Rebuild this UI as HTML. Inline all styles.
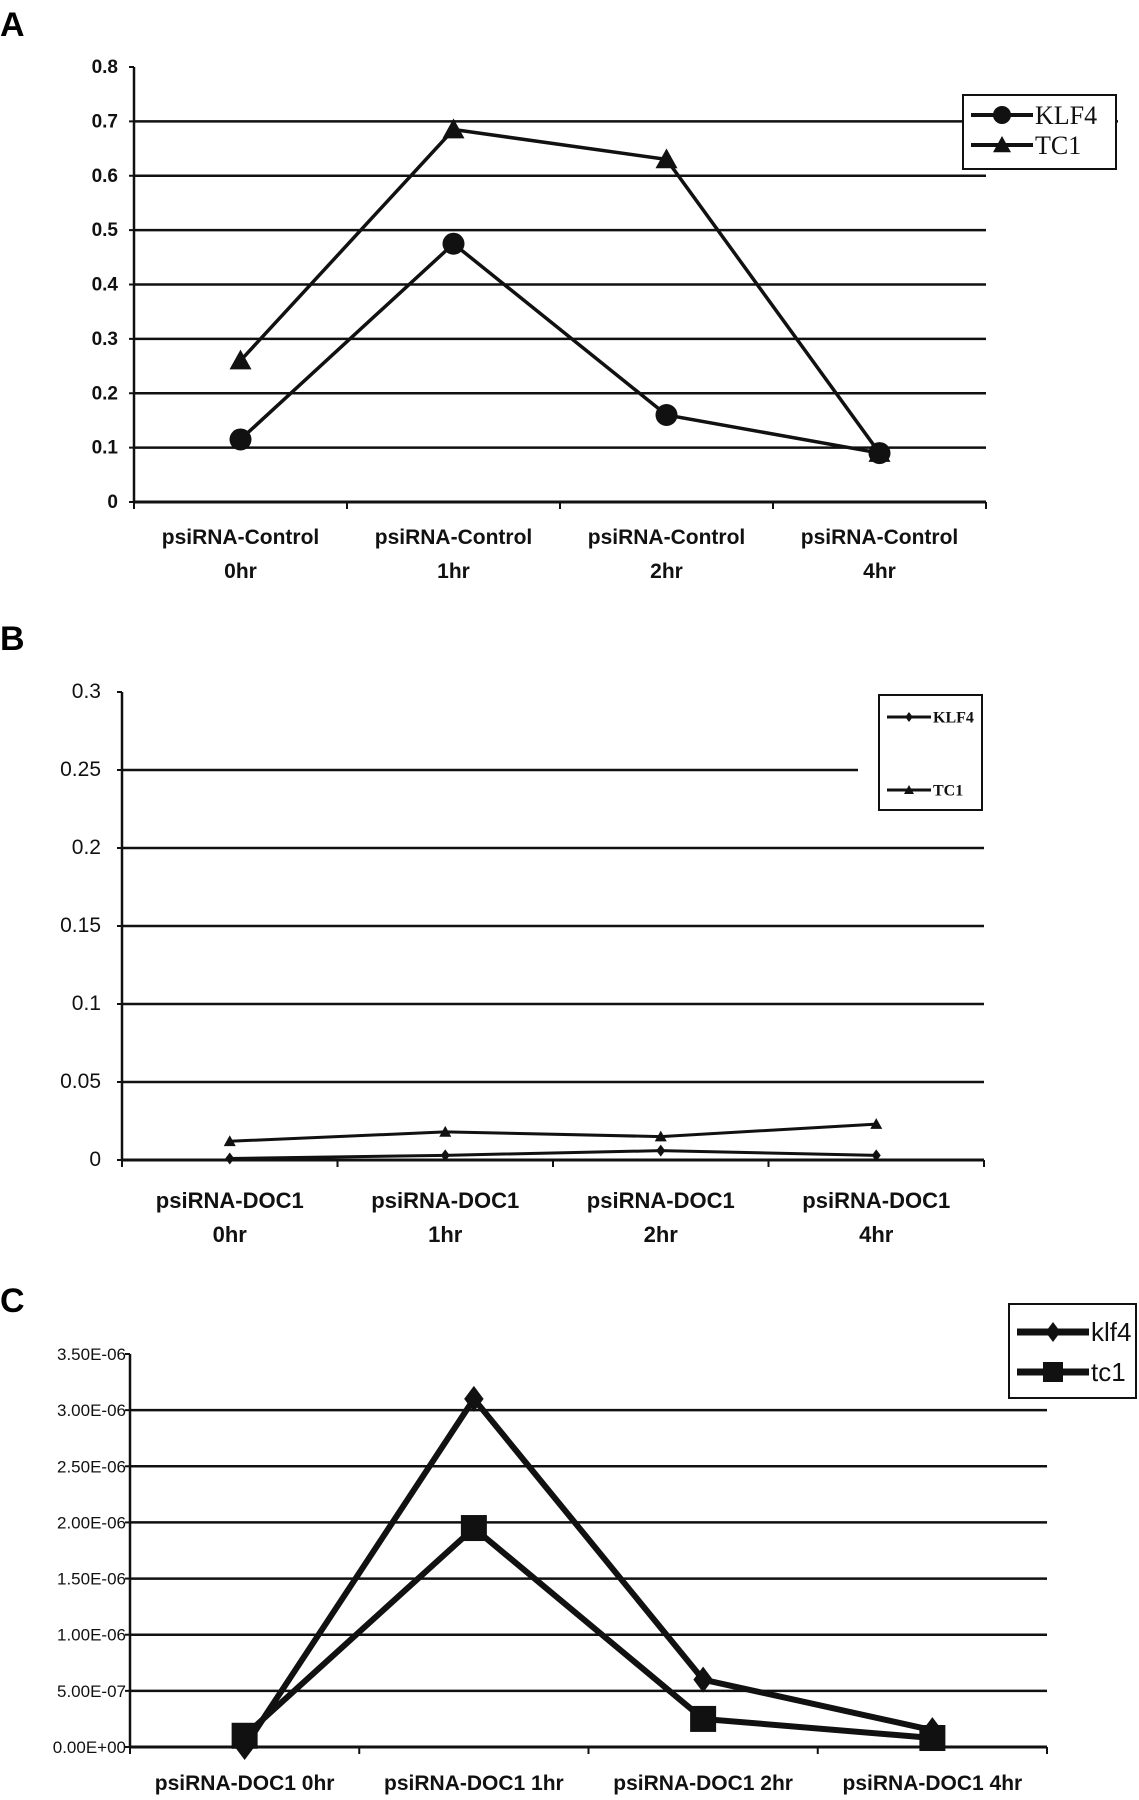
<!DOCTYPE html>
<html><head><meta charset="utf-8"><style>
html,body{margin:0;padding:0;background:#fff;}
svg{display:block;font-family:"Liberation Sans",sans-serif;}
</style></head><body>
<svg id="fig" width="1139" height="1800" viewBox="0 0 1139 1800">
<text x="0" y="36" font-size="34" font-weight="bold">A</text>
<text x="0" y="650" font-size="34" font-weight="bold">B</text>
<text x="0" y="1312" font-size="34" font-weight="bold">C</text>
</svg>
<script>
// Panel A data
const catsA = [["psiRNA-Control","0hr"],["psiRNA-Control","1hr"],["psiRNA-Control","2hr"],["psiRNA-Control","4hr"]];
const klf4A = [0.115, 0.475, 0.16, 0.09];
const tc1A = [0.26, 0.685, 0.63, 0.09];
const ticksA = [0,0.1,0.2,0.3,0.4,0.5,0.6,0.7,0.8];
const tickLabelsA = ["0","0.1","0.2","0.3","0.4","0.5","0.6","0.7","0.8"];
// Panel B data
const catsB = [["psiRNA-DOC1","0hr"],["psiRNA-DOC1","1hr"],["psiRNA-DOC1","2hr"],["psiRNA-DOC1","4hr"]];
const klf4B = [0.001, 0.003, 0.006, 0.003];
const tc1B = [0.012, 0.018, 0.015, 0.023];
const ticksB = [0,0.05,0.1,0.15,0.2,0.25,0.3];
const tickLabelsB = ["0","0.05","0.1","0.15","0.2","0.25","0.3"];
// Panel C data
const catsC = [["psiRNA-DOC1 0hr"],["psiRNA-DOC1 1hr"],["psiRNA-DOC1 2hr"],["psiRNA-DOC1 4hr"]];
const klf4C = [0.0, 3.1e-6, 0.6e-6, 0.15e-6];
const tc1C = [0.1e-6, 1.95e-6, 0.25e-6, 0.08e-6];
const ticksC = [0,0.5e-6,1e-6,1.5e-6,2e-6,2.5e-6,3e-6,3.5e-6];
const tickLabelsC = ["0.00E+00","5.00E-07","1.00E-06","1.50E-06","2.00E-06","2.50E-06","3.00E-06","3.50E-06"];

const NS="http://www.w3.org/2000/svg";
const svg=document.getElementById('fig');
function mk(tag,attrs,parent){const e=document.createElementNS(NS,tag);for(const k in attrs)e.setAttribute(k,attrs[k]);(parent||svg).appendChild(e);return e;}

function marker(g,type,x,y,s){
  let e;
  if(type==='circle')e=mk('circle',{cx:x,cy:y,r:s,fill:'#111'},g);
  else if(type==='tri')e=mk('polygon',{points:`${x},${y-s} ${x-s},${y+s*0.8} ${x+s},${y+s*0.8}`,fill:'#111'},g);
  else if(type==='diamond')e=mk('polygon',{points:`${x},${y-s} ${x-s*0.75},${y} ${x},${y+s} ${x+s*0.75},${y}`,fill:'#111'},g);
  else e=mk('rect',{x:x-s,y:y-s,width:2*s,height:2*s,fill:'#111'},g);
  return e;
}

function chart(o){
  const g=mk('g',{});
  
  
  const ymax=o.ticks[o.ticks.length-1];
  const ys=v=>o.y0-(v/ymax)*(o.y0-o.yTop);
  const n=o.cats.length, step=(o.xR-o.x0)/n;
  const xs=i=>o.x0+step*(i+0.5);
  o.ticks.forEach((t,i)=>{
    const y=ys(t);
    const ext=(o.longTick!==undefined&&i===o.longTick)?o.longX:o.xR;
    if(i>0&&i<o.ticks.length-1){const l=mk('line',{x1:o.x0,y1:y,x2:ext,y2:y,stroke:'#111','stroke-width':2.5},g);
      
      }
    mk('line',{x1:o.x0-5,y1:y,x2:o.x0,y2:y,stroke:'#111','stroke-width':2},g);
    const tx=mk('text',{x:o.labX,y:y+6,'text-anchor':'end','font-size':o.tfs,fill:'#111','font-weight':o.tbold?'bold':'normal'},g);
    tx.textContent=o.tickLabels[i];
    
    
  });
  const ax=mk('line',{x1:o.x0,y1:o.yTop,x2:o.x0,y2:o.y0,stroke:'#111','stroke-width':2.5},g);
  
  
  const bx=mk('line',{x1:o.x0,y1:o.y0,x2:o.xR,y2:o.y0,stroke:'#111','stroke-width':3},g);
  
  
  for(let i=0;i<=n;i++)mk('line',{x1:o.x0+step*i,y1:o.y0,x2:o.x0+step*i,y2:o.y0+7,stroke:'#111','stroke-width':2},g);
  o.cats.forEach((c,i)=>{
    c.forEach((line,j)=>{
      const t=mk('text',{x:xs(i),y:o.catY+j*o.catDy,'text-anchor':'middle','font-size':o.cfs,'font-weight':'bold',fill:'#111'},g);
      t.textContent=line;
      
      
    });
  });
  o.series.forEach(s=>{
    const pts=s.values.map((v,i)=>xs(i)+','+ys(v)).join(' ');
    const pl=mk('polyline',{points:pts,fill:'none',stroke:'#111','stroke-width':o.lw},g);
    
    
    s.values.forEach((v,i)=>{
      const m=marker(g,s.marker,xs(i),ys(v),o.ms);
      
      
    });
  });
  const L=o.legend;
  const lg=mk('g',{},g);
  
  
  mk('rect',{x:L.x,y:L.y,width:L.w,height:L.h,fill:'#fff',stroke:'#111','stroke-width':2},lg);
  o.series.forEach((s,i)=>{
    const y=L.y+L.rows[i];
    mk('line',{x1:L.x+8,y1:y,x2:L.x+L.lineLen,y2:y,stroke:'#111','stroke-width':L.lw},lg);
    marker(lg,s.marker,L.x+8+(L.lineLen-8)/2,y,L.ms);
    const t=mk('text',{x:L.x+L.lineLen+2,y:y+L.fs*0.35,'font-size':L.fs,'font-family':L.font,'font-weight':L.bold?'bold':'normal',fill:'#111'},lg);
    t.textContent=s.label;
    
    
  });
}

chart({name:'chart-a',cats:catsA,ticks:ticksA,tickLabels:tickLabelsA,x0:134,xR:986,yTop:67,y0:502,labX:118,tfs:19,tbold:true,cfs:21,catY:544,catDy:34,lw:3.5,ms:11,longTick:7,longX:1118,
  series:[{key:'klf4',label:'KLF4',values:klf4A,marker:'circle'},{key:'tc1',label:'TC1',values:tc1A,marker:'tri'}],
  legend:{x:963,y:95,w:153,h:74,rows:[20,50],lineLen:70,lw:4,ms:9,fs:26,font:'"Liberation Serif",serif',bold:false}});
chart({name:'chart-b',cats:catsB,ticks:ticksB,tickLabels:tickLabelsB,x0:122,xR:984,yTop:692,y0:1160,labX:101,tfs:21,tbold:false,cfs:22,catY:1208,catDy:34,lw:3,ms:6,longTick:5,longX:858,
  series:[{key:'klf4',label:'KLF4',values:klf4B,marker:'diamond'},{key:'tc1',label:'TC1',values:tc1B,marker:'tri'}],
  legend:{x:879,y:695,w:103,h:115,rows:[22,95],lineLen:52,lw:3,ms:5,fs:16,font:'"Liberation Serif",serif',bold:true}});
chart({name:'chart-c',cats:catsC,ticks:ticksC,tickLabels:tickLabelsC,x0:130,xR:1047,yTop:1354,y0:1747,labX:126,tfs:17,tbold:false,cfs:21,catY:1790,catDy:0,lw:6,ms:13,longTick:6,longX:1047,
  series:[{key:'klf4',label:'klf4',values:klf4C,marker:'diamond'},{key:'tc1',label:'tc1',values:tc1C,marker:'square'}],
  legend:{x:1009,y:1304,w:127,h:94,rows:[28,68],lineLen:80,lw:7,ms:10,fs:26,font:'"Liberation Sans",sans-serif',bold:false}});
</script>
</body></html>
